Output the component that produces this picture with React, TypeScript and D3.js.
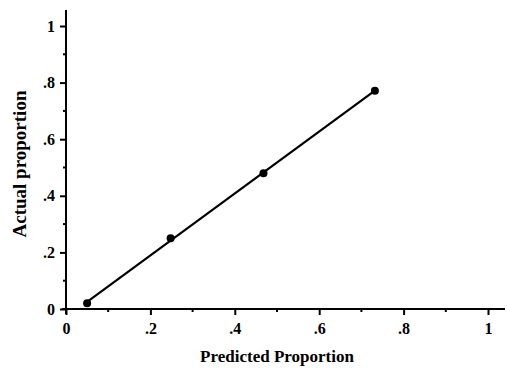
import React, { useEffect, useRef } from 'react';
import * as d3 from 'd3';

// values
const predicted = [0.05, 0.248, 0.468, 0.732];
const actual = [0.02, 0.25, 0.48, 0.771];
const majorTicks = [0, 0.2, 0.4, 0.6, 0.8, 1];
const minorTicks = [0.1, 0.3, 0.5, 0.7, 0.9];
const tickLabels = ['0', '.2', '.4', '.6', '.8', '1'];

const App: React.FC = () => {
  const svgRef = useRef<SVGSVGElement>(null);

  useEffect(() => {
    document.body.style.margin = '0';
    if (!svgRef.current) return;
    const svg = d3.select(svgRef.current);
    svg.selectAll('*').remove();

    const width = 508;
    const height = 369;
    const font = '"Liberation Serif", "Times New Roman", serif';

    const x = d3.scaleLinear().domain([0, 1]).range([66, 488]);
    const y = d3.scaleLinear().domain([0, 1]).range([309, 26]);

    svg.attr('width', width).attr('height', height);
    svg.append('rect').attr('width', width).attr('height', height).attr('fill', '#fff');

    // X axis
    const xAxis = svg.append('g').attr('transform', `translate(0, ${y(0)})`);
    xAxis.call(
      d3.axisBottom(x)
        .tickValues(majorTicks)
        .tickSize(6)
        .tickPadding(8)
        .tickFormat((_, i) => tickLabels[i])
    );
    xAxis.select('.domain').remove();
    xAxis.append('line')
      .attr('x1', x(0) - 4).attr('x2', 505)
      .attr('stroke', '#000').attr('stroke-width', 2);
    xAxis.selectAll('.tick line').attr('stroke', '#000').attr('stroke-width', 2);
    xAxis.selectAll('.tick text')
      .attr('fill', '#000')
      .attr('font-family', font)
      .attr('font-weight', 'bold')
      .attr('font-size', '16px');
    xAxis.selectAll('.minor')
      .data(minorTicks)
      .enter()
      .append('line')
      .attr('x1', d => x(d)).attr('x2', d => x(d))
      .attr('y1', 0).attr('y2', 3)
      .attr('stroke', '#000').attr('stroke-width', 2);

    // Y axis
    const yAxis = svg.append('g').attr('transform', `translate(${x(0)}, 0)`);
    yAxis.call(
      d3.axisLeft(y)
        .tickValues(majorTicks)
        .tickSize(6)
        .tickPadding(5)
        .tickFormat((_, i) => tickLabels[i])
    );
    yAxis.select('.domain').remove();
    yAxis.append('line')
      .attr('y1', y(0) + 5).attr('y2', 10)
      .attr('stroke', '#000').attr('stroke-width', 2);
    yAxis.selectAll('.tick line').attr('stroke', '#000').attr('stroke-width', 2);
    yAxis.selectAll('.tick text')
      .attr('fill', '#000')
      .attr('font-family', font)
      .attr('font-weight', 'bold')
      .attr('font-size', '16px');
    yAxis.selectAll('.minor')
      .data(minorTicks)
      .enter()
      .append('line')
      .attr('y1', d => y(d)).attr('y2', d => y(d))
      .attr('x1', 0).attr('x2', -3)
      .attr('stroke', '#000').attr('stroke-width', 2);

    // fitted line across the observed range
    const pts = predicted.map((p, i) => ({ p, a: actual[i] }));
    const mx = d3.mean(predicted) as number;
    const my = d3.mean(actual) as number;
    const slope = d3.sum(pts, d => (d.p - mx) * (d.a - my)) / d3.sum(pts, d => (d.p - mx) ** 2);
    const icpt = my - slope * mx;
    const [x0, x1] = d3.extent(predicted) as [number, number];
    const fit = [x0, x1].map(p => ({ p, a: icpt + slope * p }));

    svg.append('path')
      .datum(fit)
      .attr('fill', 'none')
      .attr('stroke', '#000')
      .attr('stroke-width', 2.2)
      .attr('d', d3.line<{ p: number; a: number }>().x(d => x(d.p)).y(d => y(d.a)));

    svg.append('g')
      .selectAll('circle')
      .data(pts)
      .enter()
      .append('circle')
      .attr('cx', d => x(d.p))
      .attr('cy', d => y(d.a))
      .attr('r', 4)
      .attr('fill', '#000');

    // axis titles
    svg.append('text')
      .attr('x', 277)
      .attr('y', 362)
      .attr('text-anchor', 'middle')
      .attr('font-family', font)
      .attr('font-weight', 'bold')
      .attr('font-size', '17px')
      .text('Predicted Proportion');

    svg.append('text')
      .attr('transform', 'translate(26, 164) rotate(-90)')
      .attr('text-anchor', 'middle')
      .attr('font-family', font)
      .attr('font-weight', 'bold')
      .attr('font-size', '19px')
      .text('Actual proportion');
  }, []);

  return <svg ref={svgRef} style={{ display: 'block' }} />;
};

export default App;
